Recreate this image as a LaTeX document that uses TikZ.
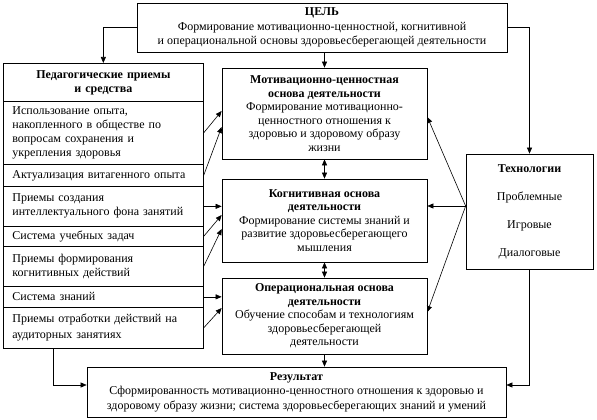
\documentclass[tikz,border=0pt]{standalone}
\usepackage{fontspec}
\setmainfont{Liberation Serif}
\usetikzlibrary{arrows.meta,calc}
\begin{document}
\begin{tikzpicture}[x=1pt,y=-1pt,
  box/.style={draw, line width=0.7pt, inner sep=0pt, align=center, font=\fontsize{12}{13.5}\selectfont},
  row/.style={draw, line width=0.7pt, anchor=north west, minimum width=200pt, text width=182pt, inner xsep=9pt, inner ysep=0pt, align=left, font=\fontsize{12}{14}\selectfont},
  arr/.style={-{Triangle[length=6pt,width=5pt]}, line width=0.6pt},
  darr/.style={{Triangle[length=6pt,width=5pt]}-{Triangle[length=6pt,width=5pt]}, line width=0.6pt}
]
\useasboundingbox (0,0) rectangle (597,420);
% goal
\node[box, minimum width=370pt, minimum height=49pt, font=\fontsize{12}{14.5}\selectfont] (goal) at (322,27.5)
  {\textbf{ЦЕЛЬ}\\Формирование мотивационно-ценностной, когнитивной\\и операциональной основы здоровьесберегающей деятельности};
% left column
\node[draw, line width=0.7pt, inner sep=0pt, minimum width=200pt, minimum height=285pt, anchor=north west] (leftcol) at (3,63) {};
\node[row, minimum height=38pt, align=center] (head) at (3,63) {\textbf{Педагогические приемы}\\\textbf{и средства}};
\node[row, minimum height=63pt] (r1) at (3,101) {Использование опыта,\\накопленного в обществе по\\вопросам сохранения и\\укрепления здоровья};
\node[row, minimum height=22pt] (r2) at (3,164) {Актуализация витагенного опыта};
\node[row, minimum height=40pt] (r3) at (3,186) {Приемы создания\\интеллектуального фона занятий};
\node[row, minimum height=20pt] (r4) at (3,226) {Система учебных задач};
\node[row, minimum height=40pt] (r5) at (3,246) {Приемы формирования\\когнитивных действий};
\node[row, minimum height=21pt] (r6) at (3,286) {Система знаний};
\node[row, minimum height=41pt, font=\fontsize{12}{16}\selectfont] (r7) at (3,307) {Приемы отработки действий на\\аудиторных занятиях};
% middle boxes
\node[box, minimum width=205pt, minimum height=91pt] (motiv) at (324.5,113.5)
  {\textbf{Мотивационно-ценностная}\\\textbf{основа деятельности}\\Формирование мотивационно-\\ценностного отношения к\\здоровью и здоровому образу\\жизни};
\node[box, minimum width=205pt, minimum height=83pt] (cog) at (324.5,220.5)
  {\textbf{Когнитивная основа}\\\textbf{деятельности}\\Формирование системы знаний и\\развитие здоровьесберегающего\\мышления};
\node[box, minimum width=205pt, minimum height=76pt] (oper) at (324.5,316)
  {\textbf{Операциональная основа}\\\textbf{деятельности}\\Обучение способам и технологиям\\здоровьесберегающей\\деятельности};
% technologies
\node[box, minimum width=127pt, minimum height=115pt] (tech) at (529.5,211.5)
  {\raisebox{2.5pt}{\begin{tabular}{@{}c@{}}\textbf{Технологии}\\[14.5pt]Проблемные\\[14.5pt]Игровые\\[14.5pt]Диалоговые\end{tabular}}};
% result
\node[box, minimum width=419pt, minimum height=50pt, font=\fontsize{12}{14.5}\selectfont] (result) at (296.5,392)
  {\textbf{Результат}\\Сформированность мотивационно-ценностного отношения к здоровью и\\здоровому образу жизни; система здоровьесберегающих знаний и умений};
% connectors from goal
\draw[arr] (goal.west) -| (leftcol.north);
\draw[arr] (goal.east) -| (tech.north);
\draw[arr] (goal.south -| motiv.north) -- (motiv.north);
\draw[darr] (motiv.south) -- (cog.north);
\draw[darr] (cog.south) -- (oper.north);
\draw[arr] (oper.south) -- (oper.south |- result.north);
\draw[arr] ([xshift=50pt]leftcol.south west) |- ([yshift=7pt]result.west);
\draw[arr] (tech.south) |- ([yshift=7pt]result.east);
% from left column
\draw[arr] (r1.east) -- ([yshift=2.5pt]motiv.west);
\draw[arr] (r2.east) -- ([yshift=-13.5pt]motiv.west);
\draw[arr] (r3.east) -- (r3.east -| cog.west);
\draw[arr] (r4.east) -- ([yshift=5.5pt]cog.west);
\draw[arr] (r5.east) -- ([yshift=-8.5pt]cog.west);
\draw[arr] (r6.east) -- (r6.east -| oper.west);
\draw[arr] (r7.east) -- ([yshift=8pt]oper.west);
% from technologies
\coordinate (tp) at ([yshift=5.5pt]tech.west);
\draw[arr] (tp) -- ([yshift=-3.5pt]motiv.east);
\draw[arr] (tp) -- (tp -| cog.east);
\draw[arr] (tp) -- ([yshift=4pt]oper.east);
\end{tikzpicture}
\end{document}
